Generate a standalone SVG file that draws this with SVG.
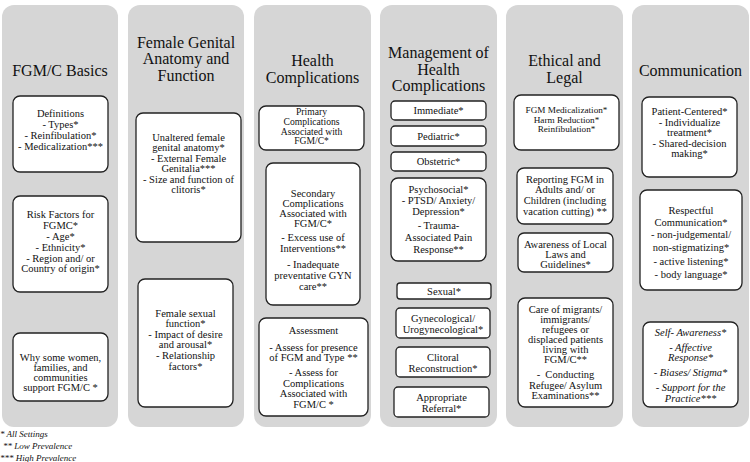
<svg xmlns="http://www.w3.org/2000/svg" width="750" height="462" viewBox="0 0 750 462" font-family="'Liberation Serif', 'DejaVu Serif', serif">
<style>
.bg{fill:#ffffff}
.panel{fill:#d6d6d6}
.box{fill:#ffffff;stroke:#222;stroke-width:1.3}
text{font-family:'Liberation Serif','DejaVu Serif',serif;fill:#111;text-anchor:middle}
.h{font-size:16px}
.t{font-size:10.5px}
.s{font-size:9.6px}
.xs{font-size:9.2px}
.i{font-style:italic}
.lg{font-size:9px;font-style:italic;text-anchor:start}
</style>
<rect class="bg" x="0" y="0" width="750" height="462"/>

<g id="col-basics">
<rect class="panel" x="2" y="5" width="116" height="422" rx="12"/>
<text class="h" x="60" y="75.5">FGM/C Basics</text>
<g id="basics-definitions">
<rect class="box" x="13" y="96" width="95" height="76" rx="7"/>
<text class="t" x="60.5" y="116.6">Definitions</text>
<text class="t" x="60.5" y="127.6">- Types*</text>
<text class="t" x="60.5" y="138.6">- Reinfibulation*</text>
<text class="t" x="60.5" y="149.6">- Medicalization***</text>
</g>
<g id="basics-risk">
<rect class="box" x="13" y="196" width="95" height="96" rx="7"/>
<text class="t" x="60.5" y="217.6">Risk Factors for</text>
<text class="t" x="60.5" y="228.6">FGMC*</text>
<text class="t" x="60.5" y="239.6">- Age*</text>
<text class="t" x="60.5" y="250.6">- Ethnicity*</text>
<text class="t" x="60.5" y="261.6">- Region and/ or</text>
<text class="t" x="60.5" y="271.6">Country of origin*</text>
</g>
<g id="basics-why">
<rect class="box" x="13" y="333" width="95" height="68" rx="7"/>
<text class="t" x="60.5" y="360.6">Why some women,</text>
<text class="t" x="60.5" y="370.6">families, and</text>
<text class="t" x="60.5" y="380.6">communities</text>
<text class="t" x="60.5" y="390.6">support FGM/C *</text>
</g>
</g>

<g id="col-anatomy">
<rect class="panel" x="128" y="5" width="116" height="422" rx="12"/>
<text class="h" x="186" y="47.5">Female Genital</text>
<text class="h" x="186" y="63.5">Anatomy and</text>
<text class="h" x="186" y="80.5">Function</text>
<g id="anatomy-unaltered">
<rect class="box" x="136" y="113" width="105" height="129" rx="7"/>
<text class="t" x="188.5" y="140.6">Unaltered female</text>
<text class="t" x="188.5" y="150.6">genital anatomy*</text>
<text class="t" x="188.5" y="161.6">- External Female</text>
<text class="t" x="188.5" y="171.6">Genitalia***</text>
<text class="t" x="188.5" y="182.6">- Size and function of</text>
<text class="t" x="188.5" y="192.6">clitoris*</text>
</g>
<g id="anatomy-sexual">
<rect class="box" x="138" y="279" width="95" height="128" rx="7"/>
<text class="t" x="185.5" y="316.6">Female sexual</text>
<text class="t" x="185.5" y="326.6">function*</text>
<text class="t" x="185.5" y="337.6">- Impact of desire</text>
<text class="t" x="185.5" y="347.6">and arousal*</text>
<text class="t" x="185.5" y="358.6">- Relationship</text>
<text class="t" x="185.5" y="369.6">factors*</text>
</g>
</g>

<g id="col-complications">
<rect class="panel" x="254" y="5" width="117" height="422" rx="12"/>
<text class="h" x="312.5" y="65.5">Health</text>
<text class="h" x="312.5" y="82.5">Complications</text>
<g id="comp-primary">
<rect class="box" x="259" y="106" width="105" height="44" rx="7"/>
<text class="s" x="311.5" y="115.3">Primary</text>
<text class="s" x="311.5" y="125">Complications</text>
<text class="s" x="311.5" y="134.7">Associated with</text>
<text class="s" x="311.5" y="144.4">FGM/C*</text>
</g>
<g id="comp-secondary">
<rect class="box" x="266" y="163" width="94" height="142" rx="7"/>
<text class="t" x="313" y="196.6">Secondary</text>
<text class="t" x="313" y="206.6">Complications</text>
<text class="t" x="313" y="216.6">Associated with</text>
<text class="t" x="313" y="226.6">FGM/C*</text>
<text class="t" x="313" y="240.6">- Excess use of</text>
<text class="t" x="313" y="251.6">Interventions**</text>
<text class="t" x="313" y="267.6">- Inadequate</text>
<text class="t" x="313" y="278.6">preventative GYN</text>
<text class="t" x="313" y="289.6">care**</text>
</g>
<g id="comp-assessment">
<rect class="box" x="259" y="318" width="109" height="98" rx="7"/>
<text class="t" x="313.5" y="333.6">Assessment</text>
<text class="t" x="313.5" y="350.6">- Assess for presence</text>
<text class="t" x="313.5" y="360.6">of FGM and Type **</text>
<text class="t" x="313.5" y="375.6">- Assess for</text>
<text class="t" x="313.5" y="386.6">Complications</text>
<text class="t" x="313.5" y="396.6">Associated with</text>
<text class="t" x="313.5" y="407.6">FGM/C *</text>
</g>
</g>

<g id="col-management">
<rect class="panel" x="380" y="5" width="117" height="422" rx="12"/>
<text class="h" x="438.5" y="57.5">Management of</text>
<text class="h" x="438.5" y="74.5">Health</text>
<text class="h" x="438.5" y="90.5">Complications</text>
<g id="mgmt-immediate">
<rect class="box" x="391" y="101" width="95" height="19" rx="4"/>
<text class="t" x="438.5" y="114.4">Immediate*</text>
</g>
<g id="mgmt-pediatric">
<rect class="box" x="391" y="126" width="95" height="20" rx="4"/>
<text class="t" x="438.5" y="139.6">Pediatric*</text>
</g>
<g id="mgmt-obstetric">
<rect class="box" x="391" y="152" width="95" height="19" rx="4"/>
<text class="t" x="438.5" y="165.4">Obstetric*</text>
</g>
<g id="mgmt-psychosocial">
<rect class="box" x="391" y="178" width="95" height="83" rx="7"/>
<text class="t" x="438.5" y="192.6">Psychosocial*</text>
<text class="t" x="438.5" y="203.6">- PTSD/ Anxiety/</text>
<text class="t" x="438.5" y="214.6">Depression*</text>
<text class="t" x="438.5" y="228.6">- Trauma-</text>
<text class="t" x="438.5" y="240.6">Associated Pain</text>
<text class="t" x="438.5" y="252.6">Response**</text>
</g>
<g id="mgmt-sexual">
<rect class="box" x="397" y="283" width="94" height="16" rx="3"/>
<text class="t" x="444" y="294.6">Sexual*</text>
</g>
<g id="mgmt-gyn">
<rect class="box" x="396" y="308" width="94" height="30" rx="4"/>
<text class="t" x="443" y="321.6">Gynecological/</text>
<text class="t" x="443" y="332.6">Urogynecological*</text>
</g>
<g id="mgmt-clitoral">
<rect class="box" x="396" y="347" width="94" height="30" rx="4"/>
<text class="t" x="443" y="360.6">Clitoral</text>
<text class="t" x="443" y="371.6">Reconstruction*</text>
</g>
<g id="mgmt-referral">
<rect class="box" x="394" y="387" width="95" height="30" rx="4"/>
<text class="t" x="441.5" y="400.6">Appropriate</text>
<text class="t" x="441.5" y="411.6">Referral*</text>
</g>
</g>

<g id="col-ethical">
<rect class="panel" x="506" y="5" width="117" height="422" rx="12"/>
<text class="h" x="564.5" y="65.5">Ethical and</text>
<text class="h" x="564.5" y="82.5">Legal</text>
<g id="eth-medicalization">
<rect class="box" x="514" y="95" width="105" height="55" rx="7"/>
<text class="xs" x="566.5" y="113.3">FGM Medicalization*</text>
<text class="xs" x="566.5" y="122.8">Harm Reduction*</text>
<text class="xs" x="566.5" y="132.3">Reinfibulation*</text>
</g>
<g id="eth-reporting">
<rect class="box" x="517" y="168" width="96" height="56" rx="7"/>
<text class="t" x="565" y="182.6">Reporting FGM in</text>
<text class="t" x="565" y="192.6">Adults and/ or</text>
<text class="t" x="565" y="203.6">Children (including</text>
<text class="t" x="565" y="214.6">vacation cutting) **</text>
</g>
<g id="eth-laws">
<rect class="box" x="518" y="233" width="95" height="39" rx="6"/>
<text class="t" x="565.5" y="247.6">Awareness of Local</text>
<text class="t" x="565.5" y="257.6">Laws and</text>
<text class="t" x="565.5" y="267.6">Guidelines*</text>
</g>
<g id="eth-migrants">
<rect class="box" x="518" y="298" width="95" height="109" rx="7"/>
<text class="t" x="565.5" y="312.6">Care of migrants/</text>
<text class="t" x="565.5" y="322.6">immigrants/</text>
<text class="t" x="565.5" y="332.6">refugees or</text>
<text class="t" x="565.5" y="342.6">displaced patients</text>
<text class="t" x="565.5" y="352.6">living with</text>
<text class="t" x="565.5" y="362.6">FGM/C**</text>
<text class="t" x="565.5" y="377.6" xml:space="preserve">-  Conducting</text>
<text class="t" x="565.5" y="388.6">Refugee/ Asylum</text>
<text class="t" x="565.5" y="398.6">Examinations**</text>
</g>
</g>

<g id="col-communication">
<rect class="panel" x="632" y="5" width="117" height="422" rx="12"/>
<text class="h" x="690.5" y="75.5">Communication</text>
<g id="comm-patient">
<rect class="box" x="642" y="97" width="95" height="80" rx="7"/>
<text class="t" x="689.5" y="114.6">Patient-Centered*</text>
<text class="t" x="689.5" y="125.6">- Individualize</text>
<text class="t" x="689.5" y="135.6">treatment*</text>
<text class="t" x="689.5" y="146.6">- Shared-decision</text>
<text class="t" x="689.5" y="156.6">making*</text>
</g>
<g id="comm-respectful">
<rect class="box" x="640" y="190" width="102" height="100" rx="7"/>
<text class="t" x="691" y="213.6">Respectful</text>
<text class="t" x="691" y="225.6">Communication*</text>
<text class="t" x="691" y="237.6">- non-judgemental/</text>
<text class="t" x="691" y="250.6">non-stigmatizing*</text>
<text class="t" x="691" y="264.6">- active listening*</text>
<text class="t" x="691" y="277.6">- body language*</text>
</g>
<g id="comm-self">
<rect class="box" x="643" y="322" width="95" height="85" rx="7"/>
<text class="t i" x="690.5" y="335.6">Self- Awareness*</text>
<text class="t i" x="690.5" y="350.6">- Affective</text>
<text class="t i" x="690.5" y="360.6">Response*</text>
<text class="t i" x="690.5" y="375.6">- Biases/ Stigma*</text>
<text class="t i" x="690.5" y="390.6">- Support for the</text>
<text class="t i" x="690.5" y="401.6">Practice***</text>
</g>
</g>

<g id="legend">
<text class="lg" x="0" y="437">* All Settings</text>
<text class="lg" x="3" y="449">** Low Prevalence</text>
<text class="lg" x="0" y="461">*** High Prevalence</text>
</g>
<g id="connectors"/>
</svg>
